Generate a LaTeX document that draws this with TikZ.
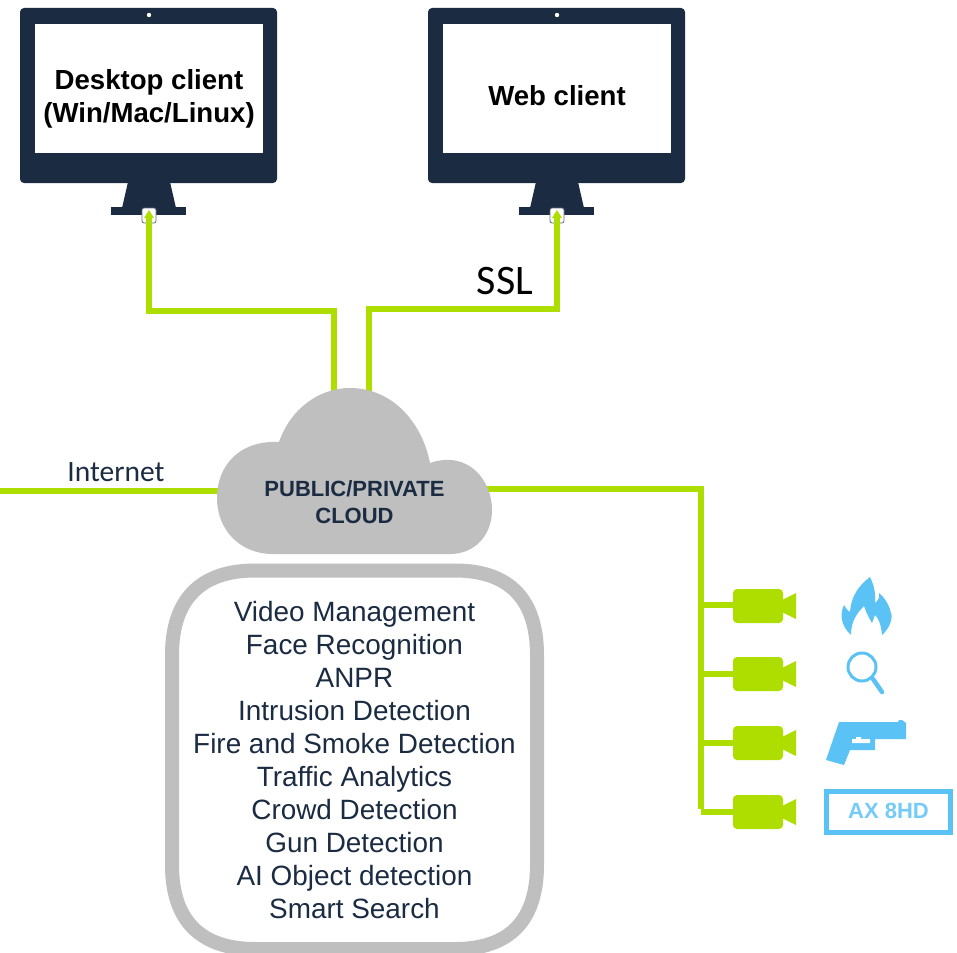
\documentclass[tikz,border=0pt]{standalone}
\usepackage{fontspec}
\setmainfont{Liberation Sans}
\newfontfamily\calib{Carlito}
\definecolor{navy}{HTML}{1A2B42}
\definecolor{lime}{HTML}{AEDD00}
\definecolor{cloudgray}{HTML}{BFBFBF}
\definecolor{skyb}{HTML}{5BC2F5}
\tikzset{
  wire/.style={draw=lime,line width=5.5pt,line join=miter},
  cam/.style={fill=lime,draw=none},
  listtext/.style={font=\fontsize{27.9}{32.9}\selectfont,text=navy,align=center,inner sep=0pt},
  clienttext/.style={font=\bfseries\fontsize{27.6}{33}\selectfont,text=black,align=center,inner sep=0pt},
  portbox/.style={draw=navy!70,line width=.8pt,fill=white,rounded corners=2pt,minimum width=14pt,minimum height=15pt,inner sep=0pt},
}
\newcommand{\monitor}[1]{%
  \begin{scope}[shift={(#1,0)}]
    \fill[navy,rounded corners=4pt] (20,8) rectangle (277,183);
    \fill[white] (35,24) rectangle (263,153);
    \fill[white] (149,15) circle (2.2);
    \fill[navy] (128,182) -- (170,182) -- (176,208) -- (122,208) -- cycle;
    \fill[navy] (111,207) rectangle (186,215);
  \end{scope}}
\newcommand{\camera}[2]{%
  \begin{scope}[shift={(0,#1)}]
    \fill[cam,rounded corners=4pt] (733,-17) rectangle (783,17);
    \fill[cam] (782,-6) -- (796,-13) -- (796,13) -- (782,6) -- cycle;
    \coordinate (#2) at (733,0);
  \end{scope}}
\begin{document}
\begin{tikzpicture}[x=1pt,y=-1pt]
\useasboundingbox (0,0) rectangle (957,952);
% rounded box
\begin{scope}
\clip (0,0) rectangle (957,952);
\draw[cloudgray,line width=14pt] (255,570.5) -- (455,570.5)
  .. controls (510,570.5) and (537,600) .. (537,655)
  -- (537,865) .. controls (537,920) and (510,949) .. (455,949)
  -- (255,949) .. controls (200,949) and (172,920) .. (172,865)
  -- (172,655) .. controls (172,600) and (200,570.5) .. (255,570.5) -- cycle;
\end{scope}
\node[listtext] (services) at (354.5,760) {Video Management\\Face Recognition\\ANPR\\Intrusion Detection\\Fire and Smoke Detection\\Traffic Analytics\\Crowd Detection\\Gun Detection\\AI Object detection\\Smart Search};
% monitors
\monitor{0}
\monitor{408}
\node[clienttext] (desk) at (149,98.5) {Desktop client\\(Win/Mac/Linux)};
\node[clienttext] (web) at (557,96) {Web client};
\node[portbox] (deskport) at (149,215.5) {};
\node[portbox] (webport) at (557,215.5) {};
% anchors on the cloud
\coordinate (cloudA) at (334,395);
\coordinate (cloudB) at (369,395);
\coordinate (cloudL) at (225,491);
\coordinate (cloudR) at (485,489);
\coordinate (netend) at (0,491);
\coordinate (j1) at (149,311);
\coordinate (j2) at (334,311);
\coordinate (j3) at (557,309);
\coordinate (j4) at (369,309);
\coordinate (j5) at (701,489);
\camera{606}{c1}
\camera{674}{c2}
\camera{743}{c3}
\camera{812}{c4}
\coordinate (b1) at (701,605);
\coordinate (b2) at (701,674);
\coordinate (b3) at (701,743);
\coordinate (b4) at (701,812);
% wires
\draw[wire] (cloudA) -- (j2) -- (j1) -- (deskport.center);
\draw[wire] (cloudB) -- (j4) -- (j3) -- (webport.center);
\fill[lime] (149,210) -- (154,218) -- (144,218) -- cycle;
\fill[lime] (557,210) -- (562,218) -- (552,218) -- cycle;
\draw[wire] (netend) -- (cloudL);
\draw[wire] (cloudR) -- (j5) -- ([yshift=2.75pt]b4);
\draw[wire] (b1) -- (c1 |- b1);
\draw[wire] (b2) -- (c2);
\draw[wire] (b3) -- (c3);
\draw[wire] (b4) -- (c4);
% cloud
\fill[cloudgray] (273,554)
  .. controls (240,554) and (217,530) .. (217,498)
  .. controls (217,465) and (240,440) .. (279,442)
  .. controls (290,410) and (318,388) .. (350,388)
  .. controls (392,388) and (422,422) .. (430,463)
  .. controls (468,450) and (492,480) .. (492,510)
  .. controls (492,535) and (475,554) .. (450,554) -- cycle;
\node[font=\bfseries\fontsize{22}{27}\selectfont,text=navy,align=center,inner sep=0pt] (cloud) at (354.5,502) {PUBLIC/PRIVATE\\CLOUD};
% labels
\node[font=\calib\fontsize{42}{42}\selectfont,text=black,inner sep=0pt] (ssl) at (505,281) {SSL};
\node[font=\calib\fontsize{29.5}{29.5}\selectfont,text=navy,inner sep=0pt] (net) at (116,472) {Internet};
% flame
\fill[skyb] (870,577)
  .. controls (858,586) and (851,597) .. (850,612)
  .. controls (847,610) and (845,607) .. (844,605)
  .. controls (840,613) and (840,625) .. (851,635)
  .. controls (851,622) and (856,614) .. (864,606)
  .. controls (866,612) and (869,618) .. (872,623)
  .. controls (873,620) and (874,618) .. (875,615)
  .. controls (878,618) and (881,623) .. (882,635)
  .. controls (890,628) and (893,618) .. (891,613)
  .. controls (889,604) and (884,597) .. (879,593)
  .. controls (880,597) and (878,601) .. (875,603)
  .. controls (876,594) and (874,585) .. (870,577) -- cycle;
% magnifier
\draw[skyb,line width=3pt] (862,667) circle (14);
\draw[skyb,line width=4.5pt,line cap=round] (873,679) -- (882,692);
% gun
\fill[skyb] (839,722) -- (898,722) -- (899,720) -- (902,720) -- (906,723) -- (906,739) -- (875,739) -- (875,750) -- (850,750) -- (844,765) -- (826,760) -- cycle;
\fill[white] (852,739) -- (856,739) -- (856,737) -- (861,737) -- (861,739) -- (870,739) -- (870,743) -- (852,743) -- cycle;
% AX box
\draw[skyb,line width=5pt] (826.5,791.5) rectangle (950.5,832.5);
\node[font=\fontsize{22}{22}\selectfont\bfseries,text=skyb!85,inner sep=0pt] (ax) at (888.5,811) {AX 8HD};
\end{tikzpicture}
\end{document}
